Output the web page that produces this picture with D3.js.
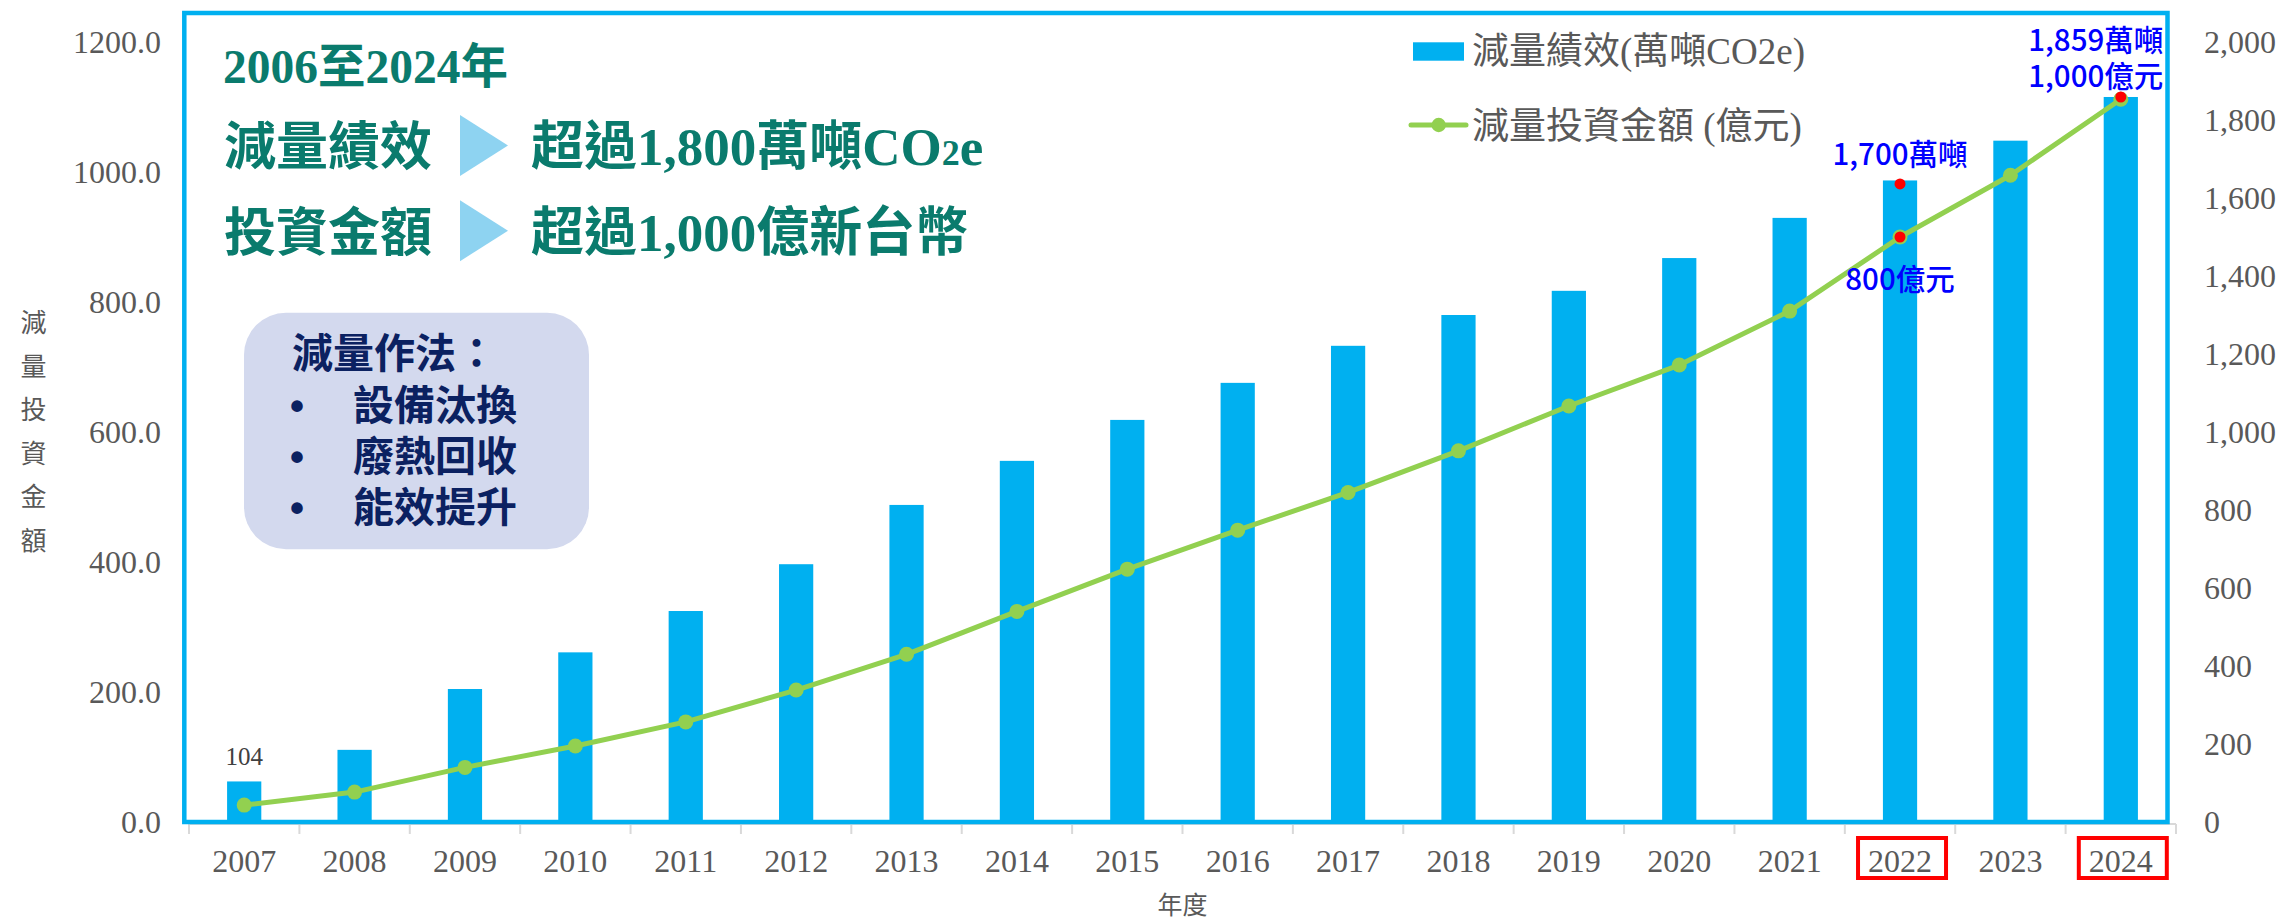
<!DOCTYPE html>
<html><head><meta charset="utf-8">
<script src="https://cdn.jsdelivr.net/npm/d3@7"></script>
<style>html,body{margin:0;padding:0;background:#fff;} svg{display:block;}</style>
</head><body>
<svg id="chart" width="2280" height="923"></svg>
<script>
// ---------- data ----------
const years = ["2007","2008","2009","2010","2011","2012","2013","2014","2015","2016","2017","2018","2019","2020","2021","2022","2023","2024"];
// 減量績效 (萬噸CO2e) – bars, right axis
const reduction = [104,185,341,435,541,661,813,926,1031,1126,1221,1300,1362,1446,1549,1645,1747,1859];
// 減量投資金額 (億元) – line, left axis
const investment = [26,46,84,117,154,203,258,324,389,449,507,571,640,703,786,900,995,1112];
const leftTicks = [0,200,400,600,800,1000,1200];
const rightTicks = [0,200,400,600,800,1000,1200,1400,1600,1800,2000];
const seriesNames = ["減量績效(萬噸CO2e)", "減量投資金額 (億元)"];
const leftAxisTitle = ["減","量","投","資","金","額"];
const xAxisTitle = "年度";
const highlightYears = ["2022","2024"];
const redDots = [
  {year:"2022", axis:"R", value:1636},
  {year:"2022", axis:"L", value:900},
  {year:"2024", axis:"R", value:1859}
];
const boxTitle = "減量作法：";
const boxItems = ["設備汰換","廢熱回收","能效提升"];

// ---------- layout ----------
const svg = d3.select("#chart");
const BLUE = "#00B0F0", GREEN = "#92D050", GRAY = "#595959", TEAL = "#0A7B6D", NAVY = "#0B2161";
const serif = "'Liberation Serif','Times New Roman','Noto Sans CJK TC',serif";
const sans = "'Noto Sans CJK TC','Noto Sans',sans-serif";

const x = d3.scaleBand().domain(years).range([189, 2176]).paddingInner(0.69).paddingOuter(0.345);
const xc = d => x(d) + x.bandwidth()/2;
const yL = d3.scaleLinear().domain([0,1200]).range([822, 42]);
const yR = d3.scaleLinear().domain([0,2000]).range([822, 42]);
const step = x.step();

// x axis base line + boundary ticks
const ax = svg.append("g");
ax.append("line").attr("x1", x.range()[0]).attr("x2", x.range()[1]).attr("y1", 824).attr("y2", 824)
  .attr("stroke", "#D9D9D9").attr("stroke-width", 2);
const bounds = years.map(d => x(d) - (step - x.bandwidth())/2).concat([x.range()[1]]);
ax.selectAll("line.tk").data(bounds).join("line").attr("class","tk")
  .attr("x1", d=>d).attr("x2", d=>d).attr("y1", 824).attr("y2", 834)
  .attr("stroke", "#D9D9D9").attr("stroke-width", 2);

// frame
svg.append("rect").attr("x", 184.3).attr("y", 13).attr("width", 2167.5-184.3).attr("height", 822-13)
  .attr("fill", "none").attr("stroke", BLUE).attr("stroke-width", 4.5);

// bars
svg.append("g").selectAll("rect").data(years).join("rect")
  .attr("x", d => x(d)).attr("width", x.bandwidth())
  .attr("y", (d,i) => yR(reduction[i])).attr("height", (d,i) => yR(0) - yR(reduction[i]))
  .attr("fill", BLUE);

// axes
const leftAxis = svg.append("g").attr("transform", "translate(183,0)")
  .call(d3.axisLeft(yL).tickValues(leftTicks).tickFormat(d3.format(".1f")).tickSize(0).tickPadding(22));
const rightAxis = svg.append("g").attr("transform", "translate(2176,0)")
  .call(d3.axisRight(yR).tickValues(rightTicks).tickFormat(d3.format(",")).tickSize(0).tickPadding(28));
const bottomAxis = svg.append("g").attr("transform", "translate(0,822)")
  .call(d3.axisBottom(x).tickSize(0).tickPadding(27));
[leftAxis, rightAxis, bottomAxis].forEach(g => {
  g.select(".domain").remove();
  g.selectAll("text").attr("font-family", serif).attr("font-size", 32).attr("fill", GRAY);
});

// axis titles
svg.append("g").selectAll("text").data(leftAxisTitle).join("text")
  .attr("x", 33.5).attr("y", (d,i) => 332 + i*43.6).attr("text-anchor","middle")
  .attr("font-family", sans).attr("font-size", 26).attr("fill", GRAY).text(d=>d);
svg.append("text").attr("x", (x.range()[0]+x.range()[1])/2).attr("y", 914).attr("text-anchor","middle")
  .attr("font-family", sans).attr("font-size", 25).attr("fill", GRAY).text(xAxisTitle);

// line
const line = d3.line().x((d,i) => xc(years[i])).y(d => yL(d));
svg.append("path").datum(investment).attr("d", line).attr("fill","none")
  .attr("stroke", GREEN).attr("stroke-width", 5).attr("stroke-linejoin","round");
svg.append("g").selectAll("circle").data(investment).join("circle")
  .attr("cx", (d,i) => xc(years[i])).attr("cy", d => yL(d)).attr("r", 7.5).attr("fill", GREEN);

// red highlight dots
svg.append("g").selectAll("circle").data(redDots).join("circle")
  .attr("cx", d => xc(d.year)).attr("cy", d => (d.axis==="R" ? yR : yL)(d.value))
  .attr("r", 5.5).attr("fill", "#FF0000");

// value label 104
svg.append("text").attr("x", xc(years[0])).attr("y", yR(reduction[0]) - 16).attr("text-anchor","middle")
  .attr("font-family", serif).attr("font-size", 25).attr("fill", "#404040").text(String(reduction[0]));

// blue annotations
const ann = svg.append("g").attr("font-family", sans).attr("font-size", 29.5).attr("font-weight", 500)
  .attr("fill", "#0000FF").attr("text-anchor","middle");
ann.append("text").attr("x", xc("2022")).attr("y", yR(reduction[15]) - 15).text("1,700萬噸");
ann.append("text").attr("x", xc("2022")).attr("y", yL(investment[15]) + 53).text("800億元");
ann.append("text").attr("x", xc("2024") - 25).attr("y", yR(reduction[17]) - 46).text("1,859萬噸");
ann.append("text").attr("x", xc("2024") - 25).attr("y", yR(reduction[17]) - 10).text("1,000億元");

// red boxes around highlighted year labels
svg.append("g").selectAll("rect").data(highlightYears).join("rect")
  .attr("x", d => xc(d) - 42).attr("y", 838).attr("width", 88).attr("height", 40)
  .attr("fill","none").attr("stroke","#FF0000").attr("stroke-width", 4);

// headline text block
const hb = svg.append("g").attr("font-family", serif).attr("font-weight","bold").attr("fill", TEAL);
hb.append("text").attr("x", 223).attr("y", 83).attr("font-size", 47.5).text("2006至2024年");
hb.append("text").attr("x", 224).attr("y", 165).attr("font-size", 52).text("減量績效");
const t2 = hb.append("text").attr("x", 531).attr("y", 165).attr("font-size", 53);
t2.append("tspan").text("超過1,800萬噸CO");
t2.append("tspan").attr("font-size", 36).text("2");
t2.append("tspan").text("e");
hb.append("text").attr("x", 224).attr("y", 251).attr("font-size", 52).text("投資金額");
hb.append("text").attr("x", 531).attr("y", 251).attr("font-size", 53).text("超過1,000億新台幣");
svg.append("g").selectAll("path").data([145.5, 230.7]).join("path")
  .attr("d", cy => `M460,${cy-30.5}L508,${cy}L460,${cy+30.5}Z`).attr("fill", "#8ED3F1");

// rounded info box
svg.append("rect").attr("x", 244).attr("y", 312.7).attr("width", 345).attr("height", 236.6)
  .attr("rx", 42).attr("fill", "#D3D9EE");
const bx = svg.append("g").attr("fill", NAVY).attr("font-weight","bold");
bx.append("text").attr("x", 292).attr("y", 368).attr("font-family", sans).attr("font-size", 41).text(boxTitle);
bx.selectAll("text.item").data(boxItems).join("text").attr("class","item")
  .attr("x", 353).attr("y", (d,i) => 420 + i*51).attr("font-family", sans).attr("font-size", 41).text(d=>d);
bx.selectAll("text.bul").data(boxItems).join("text").attr("class","bul")
  .attr("x", 297).attr("y", (d,i) => 420 + i*51).attr("text-anchor","middle")
  .attr("font-family", "'Liberation Sans',Arial,sans-serif").attr("font-size", 40).text("•");

// legend
const lg = svg.append("g").attr("font-family", serif).attr("font-size", 37).attr("fill", GRAY);
lg.append("rect").attr("x", 1413).attr("y", 42.3).attr("width", 51).attr("height", 18.4).attr("fill", BLUE);
lg.append("text").attr("x", 1472).attr("y", 64).text(seriesNames[0]);
lg.append("line").attr("x1", 1411).attr("x2", 1466).attr("y1", 125).attr("y2", 125)
  .attr("stroke", GREEN).attr("stroke-width", 5).attr("stroke-linecap","round");
lg.append("circle").attr("cx", 1438.7).attr("cy", 125).attr("r", 7.2).attr("fill", GREEN);
lg.append("text").attr("x", 1472).attr("y", 139).text(seriesNames[1]);
</script>
</body></html>
